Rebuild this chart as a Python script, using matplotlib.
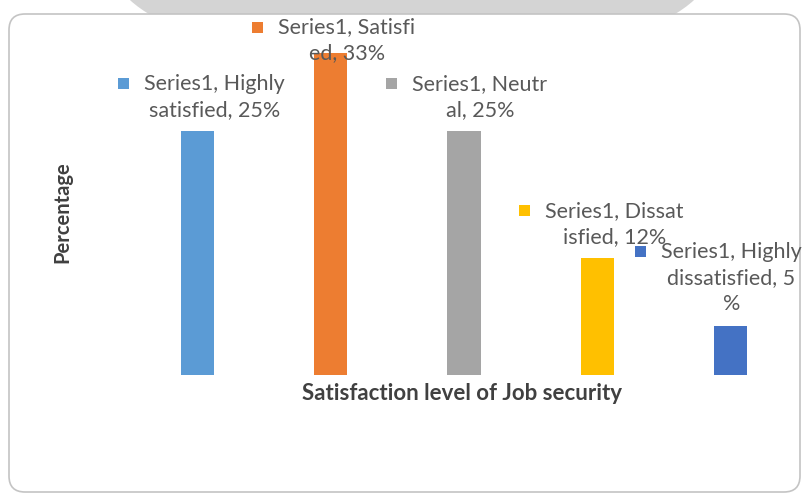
import numpy as np
import matplotlib.pyplot as plt
from matplotlib.patches import Ellipse, FancyBboxPatch, Rectangle
from matplotlib.transforms import IdentityTransform, offset_copy

# data
categories = ["Highly satisfied", "Satisfied", "Neutral", "Dissatisfied", "Highly dissatisfied"]
values = [25, 33, 25, 12, 5]
label_lines = [
    ["Series1, Highly", "satisfied, 25%"],
    ["Series1, Satisfi", "ed, 33%"],
    ["Series1, Neutr", "al, 25%"],
    ["Series1, Dissat", "isfied, 12%"],
    ["Series1, Highly", "dissatisfied, 5", "%"],
]
x_title = "Satisfaction level of Job security"
y_title = "Percentage"

# styles
colors = ['#5B9BD5', '#ED7D31', '#A5A5A5', '#FFC000', '#4472C4']
label_dx = [17, 16, 16, 17, 1]      # px right of bar centre
label_dy = [21, -1, 21, 21, 22]     # px above bar top (last line centre)
line_step = 26
font = 'Lato'

W, H = 803, 495
fig = plt.figure(figsize=(W / 100, H / 100), dpi=100)
px = IdentityTransform()

# decoration: grey swoosh at the top and the rounded chart frame
fig.patches.append(Ellipse((412, H + 34), 600, 200, transform=px,
                           facecolor='#d4d4d4', edgecolor='none', zorder=-3))
fig.patches.append(FancyBboxPatch((9, 3), 791, 478, transform=px,
                                  boxstyle='round,pad=0,rounding_size=16',
                                  facecolor='white', edgecolor='#c4c4c4', lw=1.2, zorder=-2))

ax = fig.add_axes([131 / W, (H - 375) / H, 666 / W, 342 / H])
ax.set_facecolor('none')
x = np.arange(len(categories))
ax.bar(x, values, width=0.25, color=colors)
ax.set_xlim(-0.5, len(categories) - 0.5)
ax.set_ylim(0, 35)
for s in ax.spines.values():
    s.set_visible(False)
ax.set_xticks([])
ax.set_yticks([])

# data labels
first_lines = []
for i, v in enumerate(values):
    lines = label_lines[i]
    n = len(lines)
    for k, line in enumerate(lines):
        tr = offset_copy(ax.transData, fig, x=label_dx[i], y=label_dy[i] + (n - 1 - k) * line_step,
                         units='dots')
        t = ax.text(i, v, line, transform=tr, ha='center', va='center',
                    fontsize=15.5, family=font, color='#595959', clip_on=False)
        if k == 0:
            first_lines.append(t)

ax.annotate(x_title, xy=(0.5, 0), xycoords='axes fraction', xytext=(-2, -18),
            textcoords='offset pixels', ha='center', va='center',
            fontsize=16, family=font, fontweight='bold', color='#404040')
ax.annotate(y_title, xy=(0, 0.5), xycoords='axes fraction', xytext=(-69, -8),
            textcoords='offset pixels', ha='center', va='center', rotation=90,
            fontsize=14.5, family=font, fontweight='bold', color='#404040')

# colour keys next to the first line of each label
fig.canvas.draw()
r = fig.canvas.get_renderer()
for i, t in enumerate(first_lines):
    bb = t.get_window_extent(r)
    cy = (bb.y0 + bb.y1) / 2
    fig.patches.append(Rectangle((bb.x0 - 26, cy - 5), 11, 11, transform=px,
                                 facecolor=colors[i], edgecolor='none', zorder=3))

fig.savefig('out.png', dpi=100)
